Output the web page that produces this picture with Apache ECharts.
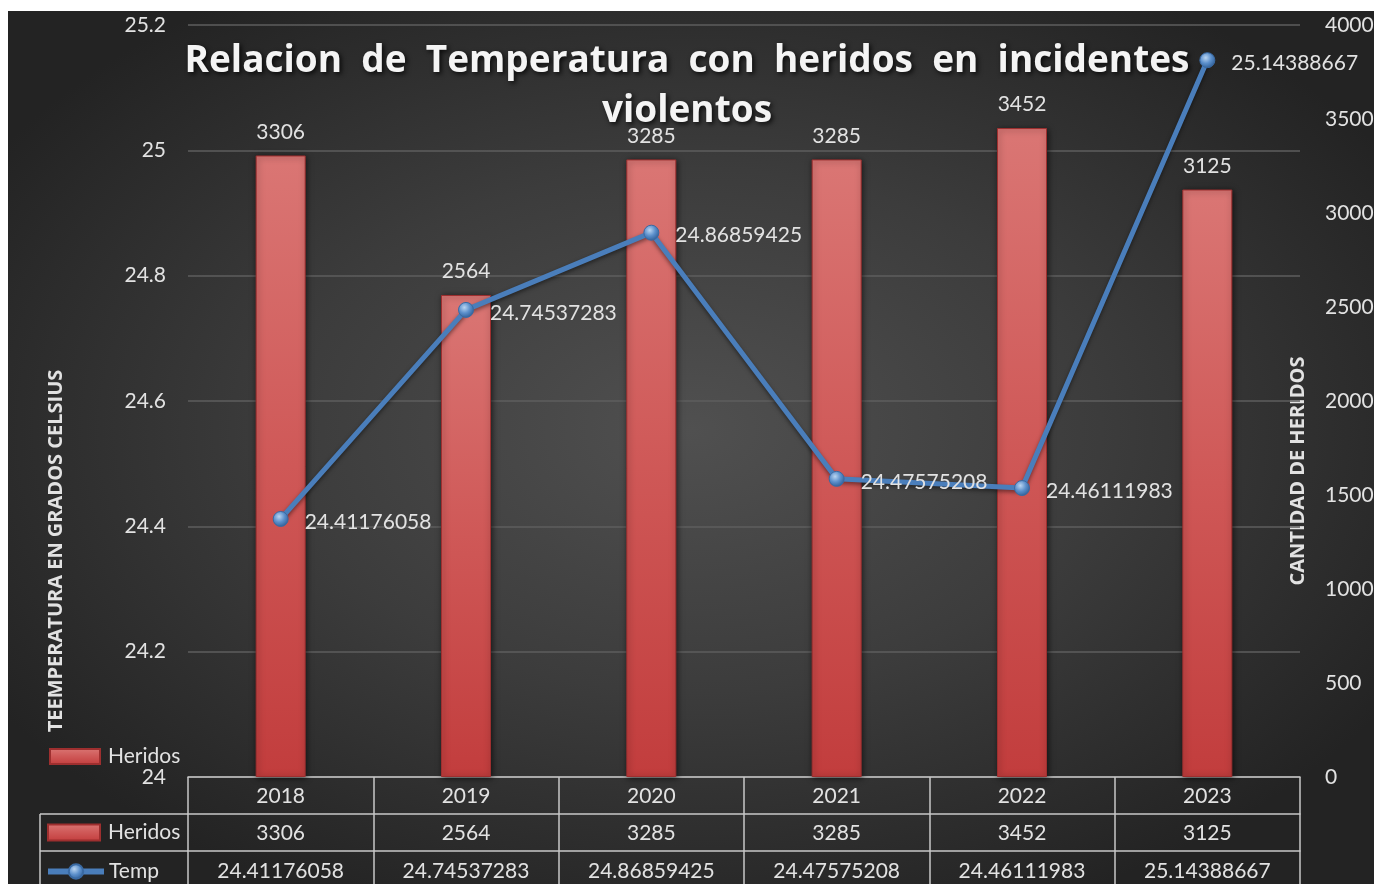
<!DOCTYPE html>
<html><head><meta charset="utf-8">
<script src="https://cdn.jsdelivr.net/npm/echarts@6/dist/echarts.min.js"></script>
<style>
html,body{margin:0;padding:0;background:#fff;}
#bg{position:absolute;left:8px;top:11px;width:1366px;height:873px;background:radial-gradient(ellipse 60% 60% at 50% 48%, #505050 0%, #3c3c3c 50%, #232323 100%);}
#chart{position:absolute;left:0;top:0;width:1374px;height:884px;}
</style></head><body><div id="bg"></div><div id="chart"></div>
<script>
const years = ['2018', '2019', '2020', '2021', '2022', '2023'];
const heridos = [3306, 2564, 3285, 3285, 3452, 3125];
const temp = [24.41176058, 24.74537283, 24.86859425, 24.47575208, 24.46111983, 25.14388667];
const titleText = 'Relacion  de  Temperatura  con  heridos  en  incidentes\nviolentos';
const leftAxisTitle = 'TEEMPERATURA EN GRADOS CELSIUS';
const rightAxisTitle = 'CANTIDAD DE HERIDOS';

const FONT = 'Lato';
const FS = 21;
const TXT = '#e2e2e2';
const GRIDC = '#c8c8c8';

const chart = echarts.init(document.getElementById('chart'), null, {renderer: 'canvas'});

const barColor = {
  type: 'linear', x: 0, y: 0, x2: 0, y2: 1,
  colorStops: [
    {offset: 0, color: '#da7674'},
    {offset: 0.5, color: '#cf5857'},
    {offset: 1, color: '#c23d3d'}
  ]
};
const dotColor = {
  type: 'radial', x: 0.4, y: 0.35, r: 0.7,
  colorStops: [
    {offset: 0, color: '#b9d4f0'},
    {offset: 0.5, color: '#5b8fcb'},
    {offset: 1, color: '#2b5a92'}
  ]
};

const tableAxis = (offset, margin, fmt) => ({
  type: 'category', data: years, position: 'bottom', offset: offset,
  axisLine: {show: true, onZero: false, lineStyle: {color: GRIDC, width: 1.5}},
  axisTick: {show: false},
  axisLabel: {color: TXT, fontSize: FS, fontFamily: FONT, margin: margin, verticalAlign: 'middle', formatter: fmt},
  splitLine: {show: false}
});

const legText = {color: TXT, fontSize: FS, fontFamily: FONT, padding: [0, 0, 0, 3]};

const option = {
  backgroundColor: 'transparent',
  animation: false,
  title: {
    text: titleText,
    left: 'center', top: 31,
    textStyle: {
      color: '#f4f4f4', fontFamily: 'Open Sans', fontWeight: 'bold', fontSize: 37, lineHeight: 50,
      textShadowColor: 'rgba(0,0,0,0.8)', textShadowBlur: 5, textShadowOffsetX: 2, textShadowOffsetY: 2
    }
  },
  grid: {left: 188, right: 74, top: 25, bottom: 107, containLabel: false, outerBoundsMode: 'none'},
  legend: [
    {data: ['Heridos'], left: 49, top: 746, padding: 0, itemWidth: 50, itemHeight: 15, icon: 'rect', textStyle: legText},
    {data: ['Heridos'], left: 47, top: 822, padding: 0, itemWidth: 52, itemHeight: 16, icon: 'rect', textStyle: legText},
    {data: ['Temp'], left: 45, top: 861, padding: 0, itemWidth: 56, itemHeight: 18,
     lineStyle: {width: 6, color: '#4a7ebb'}, textStyle: {color: TXT, fontSize: FS, fontFamily: FONT}}
  ],
  xAxis: [
    {
      type: 'category', data: years, position: 'bottom',
      axisLine: {show: true, onZero: false, lineStyle: {color: GRIDC, width: 1.5}},
      axisTick: {show: true, alignWithLabel: false, inside: false, length: 112, lineStyle: {color: GRIDC, width: 1.5}},
      axisLabel: {color: TXT, fontSize: FS, fontFamily: FONT, margin: 19, verticalAlign: 'middle'},
      splitLine: {show: false}
    },
    tableAxis(37, 19, (v, i) => String(heridos[i])),
    tableAxis(74, 20, (v, i) => String(temp[i]))
  ],
  yAxis: [
    {
      type: 'value', min: 24, max: 25.2, interval: 0.2, position: 'left',
      axisLine: {show: false}, axisTick: {show: false},
      axisLabel: {color: TXT, fontSize: FS, fontFamily: FONT, margin: 22},
      splitLine: {show: true, lineStyle: {color: '#5e5e5e', width: 1.5}}
    },
    {
      type: 'value', min: 0, max: 4000, interval: 500, position: 'right',
      axisLine: {show: false}, axisTick: {show: false},
      axisLabel: {color: TXT, fontSize: FS, fontFamily: FONT, margin: 25, formatter: v => String(v)},
      splitLine: {show: false}
    }
  ],
  series: [
    {
      name: 'Heridos', type: 'bar', xAxisIndex: 0, yAxisIndex: 1, data: heridos, barWidth: 50,
      itemStyle: {color: barColor, borderColor: '#9e2f2f', borderWidth: 1,
        shadowColor: 'rgba(0,0,0,0.6)', shadowBlur: 6, shadowOffsetX: 1, shadowOffsetY: 1},
      label: {show: true, position: 'top', distance: 13, color: TXT, fontSize: FS, fontFamily: FONT}
    },
    {
      name: 'Temp', type: 'line', xAxisIndex: 0, yAxisIndex: 0, data: temp, z: 5,
      symbol: 'circle', symbolSize: 15, showSymbol: true,
      lineStyle: {color: '#4a7ebb', width: 5, shadowColor: 'rgba(0,0,0,0.5)', shadowBlur: 4, shadowOffsetY: 2},
      itemStyle: {color: dotColor, borderColor: '#3a6aa3', borderWidth: 1},
      label: {show: true, position: 'right', distance: 16, offset: [0, 3], color: TXT, fontSize: FS, fontFamily: FONT,
        formatter: p => String(p.value)}
    }
  ],
  graphic: [
    {type: 'line', shape: {x1: 40, y1: 814, x2: 188, y2: 814}, style: {stroke: GRIDC, lineWidth: 1.5}},
    {type: 'line', shape: {x1: 40, y1: 851, x2: 188, y2: 851}, style: {stroke: GRIDC, lineWidth: 1.5}},
    {type: 'line', shape: {x1: 40, y1: 814, x2: 40, y2: 890}, style: {stroke: GRIDC, lineWidth: 1.5}},
    {type: 'text', x: 56, y: 551, rotation: Math.PI / 2,
     style: {text: leftAxisTitle, fill: TXT, font: 'bold 20px "Open Sans"', textAlign: 'center', textVerticalAlign: 'middle'}},
    {type: 'text', x: 1298, y: 471, rotation: Math.PI / 2,
     style: {text: rightAxisTitle, fill: TXT, font: 'bold 20px "Open Sans"', textAlign: 'center', textVerticalAlign: 'middle'}}
  ]
};
chart.setOption(option);
</script>
</body></html>
